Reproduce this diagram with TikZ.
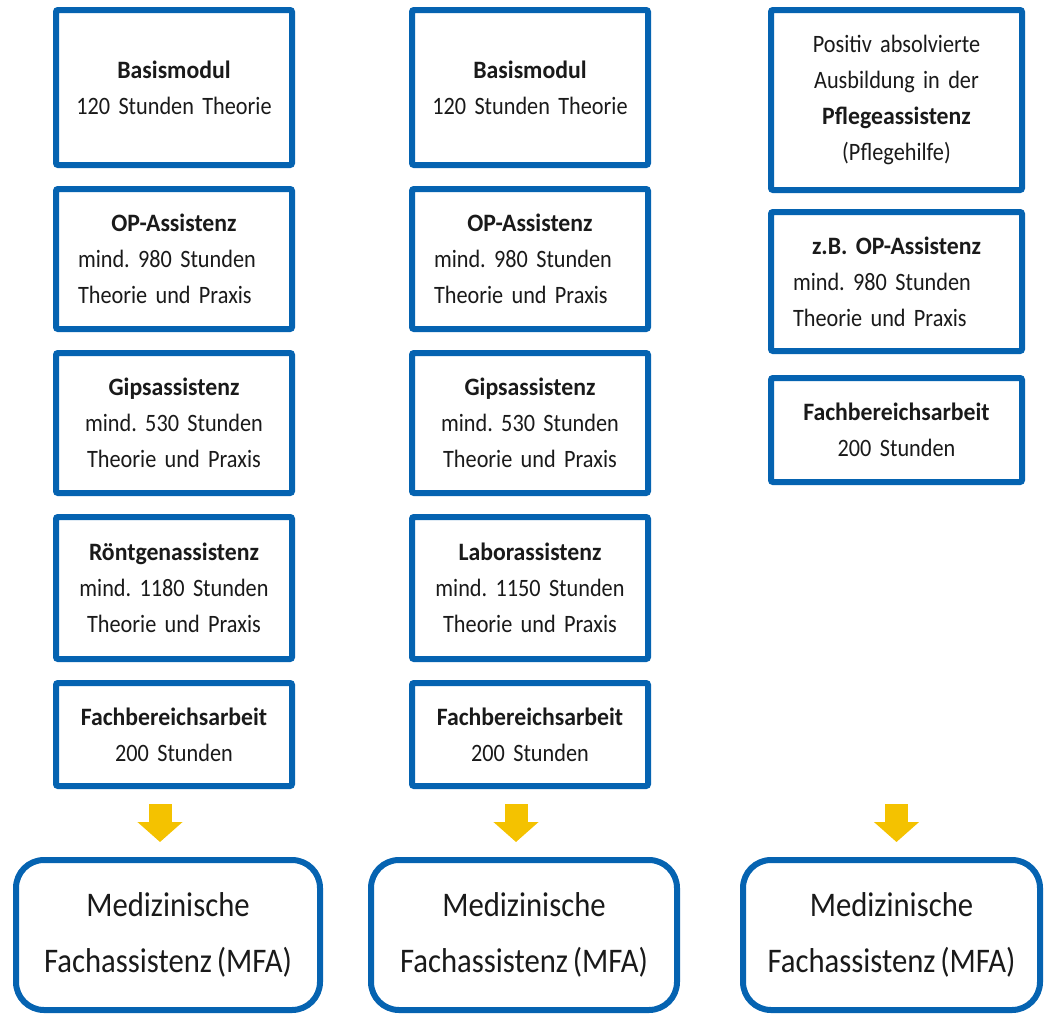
\documentclass[tikz,border=0pt]{standalone}
\usepackage{fontspec}
\setmainfont{Carlito}[FakeStretch=0.89, WordSpace=0.7, BoldFeatures={FakeStretch=0.95}]
\usepackage{tikz}
\usetikzlibrary{
  arrows.meta,
  positioning
}
\definecolor{MfaBlue}{HTML}{0563B1}
\definecolor{MfaYellow}{HTML}{F4C200}
\definecolor{MfaText}{HTML}{1A1A1A}
\frenchspacing

\begin{document}
\begin{tikzpicture}[
x=1pt, y=-1pt,
node distance=18pt,
every node/.style={text=MfaText},
modbox/.style={
draw=MfaBlue,
line width=6pt,
rounded corners=2pt,
fill=white,
inner xsep=6pt,
inner ysep=0pt,
text width=224pt,
minimum width=236pt,
align=center,
font=\fontsize{25}{36}\selectfont
},
leftbox/.style={
modbox,
inner xsep=22pt,
text width=192pt,
align=left
},
widebox/.style={
modbox,
text width=239pt,
minimum width=251pt
},
goalbox/.style={
draw=MfaBlue,
line width=6pt,
rounded corners=28pt,
fill=white,
minimum height=150pt,
align=center,
font=\fontsize{34.5}{56}\selectfont
},
downarrow/.style={
draw=MfaYellow,
line width=23pt,
-{Triangle[width=44pt,length=20pt]},
shorten <=15pt,
shorten >=15pt
}
]
\useasboundingbox (0,0) rectangle (1045,1015);

% Column 1 - Roentgen path
\node[modbox, minimum height=155pt] (base1) at (174,87.5) {%
\textbf{Basismodul}\\120 Stunden Theorie};
\node[leftbox, minimum height=140pt, below=of base1] (op1) {%
\makebox[\linewidth][c]{\textbf{OP-Assistenz}}\\mind. 980 Stunden\\Theorie und Praxis};
\node[modbox, minimum height=140pt, below=of op1] (gips1) {%
\textbf{Gipsassistenz}\\mind. 530 Stunden\\Theorie und Praxis};
\node[modbox, minimum height=142pt, below=of gips1] (xray1) {%
\textbf{Röntgenassistenz}\\mind. 1180 Stunden\\Theorie und Praxis};
\node[modbox, minimum height=103pt, below=of xray1] (thesis1) {%
\textbf{Fachbereichsarbeit}\\200 Stunden};

% Column 2 - Labor path
\node[modbox, minimum height=155pt] (base2) at (530,87.5) {%
\textbf{Basismodul}\\120 Stunden Theorie};
\node[leftbox, minimum height=140pt, below=of base2] (op2) {%
\makebox[\linewidth][c]{\textbf{OP-Assistenz}}\\mind. 980 Stunden\\Theorie und Praxis};
\node[modbox, minimum height=140pt, below=of op2] (gips2) {%
\textbf{Gipsassistenz}\\mind. 530 Stunden\\Theorie und Praxis};
\node[modbox, minimum height=142pt, below=of gips2] (lab2) {%
\textbf{Laborassistenz}\\mind. 1150 Stunden\\Theorie und Praxis};
\node[modbox, minimum height=103pt, below=of lab2] (thesis2) {%
\textbf{Fachbereichsarbeit}\\200 Stunden};

% Column 3 - Pflegeassistenz path
\node[widebox, minimum height=180pt] (care3) at (896.5,100) {%
Positiv absolvierte\\Ausbildung in der\\\textbf{Pflegeassistenz}\\(Pflegehilfe)};
\node[leftbox, text width=207pt, minimum width=251pt, minimum height=139pt, below=16pt of care3] (op3) {%
\makebox[\linewidth][c]{\textbf{z.B. OP-Assistenz}}\\mind. 980 Stunden\\Theorie und Praxis};
\node[widebox, minimum height=104pt, below=21pt of op3] (thesis3) {%
\textbf{Fachbereichsarbeit}\\200 Stunden};

% Goals
\node[goalbox, minimum width=304pt] (mfa1) at (168,935) {Medizinische\\Fachassistenz (MFA)};
\node[goalbox, minimum width=306pt] (mfa2) at (524,935) {Medizinische\\Fachassistenz (MFA)};
\node[goalbox, minimum width=297pt] (mfa3) at (891.5,935) {Medizinische\\Fachassistenz (MFA)};

% Yellow arrows
\coordinate (a1) at ([xshift=-14pt]thesis1.south);
\coordinate (a2) at ([xshift=-14pt]thesis2.south);
\coordinate (a3) at (thesis3.south |- thesis1.south);
\draw[downarrow] (a1) -- (a1 |- mfa1.north);
\draw[downarrow] (a2) -- (a2 |- mfa2.north);
\draw[downarrow] (a3) -- (a3 |- mfa3.north);

\end{tikzpicture}
\end{document}
